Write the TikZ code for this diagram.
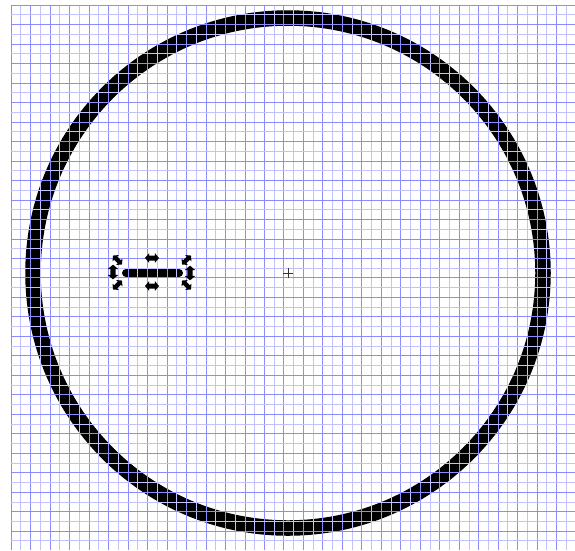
\documentclass[tikz,border=0pt]{standalone}
\usetikzlibrary{arrows.meta}
\definecolor{gridblue}{rgb}{0.55,0.55,1}
\definecolor{gridlight}{rgb}{0.76,0.76,1}
\tikzset{
  ring/.style={draw=black, line width=15.5pt},
  gridline/.style={draw=gridblue, line width=0.5pt},
  gridlineb/.style={draw=gridlight, line width=0.5pt},
  barshape/.style={line width=8pt, line cap=round, black},
  cross/.style={line width=0.8pt, black!80},
  dblarrow/.pic={
    \fill[black] (-7,0) -- (-2.8,-5) -- (-2.8,-2.5) -- (2.8,-2.5) -- (2.8,-5) -- (7,0)
      -- (2.8,5) -- (2.8,2.5) -- (-2.8,2.5) -- (-2.8,5) -- cycle;
  }
}
\begin{document}
\begin{tikzpicture}[x=1pt,y=-1pt]
\useasboundingbox (0,0) rectangle (575,550);
\fill[white] (0,0) rectangle (575,550);
% ring
\draw[ring] (288,273) circle (255);
% selected object
\coordinate (b1) at (126,273);
\coordinate (b2) at (179,273);
\draw[barshape] (b1) -- (b2);
% grid on top
\foreach \i in {0,2,...,56} {
  \draw[gridline] ({11+9.74*\i},5) -- ({11+9.74*\i},550);
}
\foreach \i in {1,3,...,57} {
  \draw[gridlineb] ({11+9.74*\i},5) -- ({11+9.74*\i},550);
}
\foreach \j in {0,2,...,54} {
  \draw[gridline] (11,{5+9.74*\j}) -- (575,{5+9.74*\j});
}
\foreach \j in {1,3,...,55} {
  \draw[gridlineb] (11,{5+9.74*\j}) -- (575,{5+9.74*\j});
}
% handles
\pic at (152,258) {dblarrow};
\pic at (152,286) {dblarrow};
\pic[rotate=-45, scale=0.9] at (117.5,260) {dblarrow};
\pic[rotate=90, scale=1.05] at (113,272) {dblarrow};
\pic[rotate=45, scale=0.9] at (117.5,285) {dblarrow};
\pic[rotate=45, scale=0.9] at (186.5,260) {dblarrow};
\pic[rotate=90, scale=1.05] at (190,273) {dblarrow};
\pic[rotate=-45, scale=0.9] at (186.5,285) {dblarrow};
% centre cross
\coordinate (c) at (288,273);
\draw[cross] ([xshift=-5pt]c) -- ([xshift=5pt]c);
\draw[cross] ([yshift=-5pt]c) -- ([yshift=5pt]c);
\end{tikzpicture}
\end{document}
